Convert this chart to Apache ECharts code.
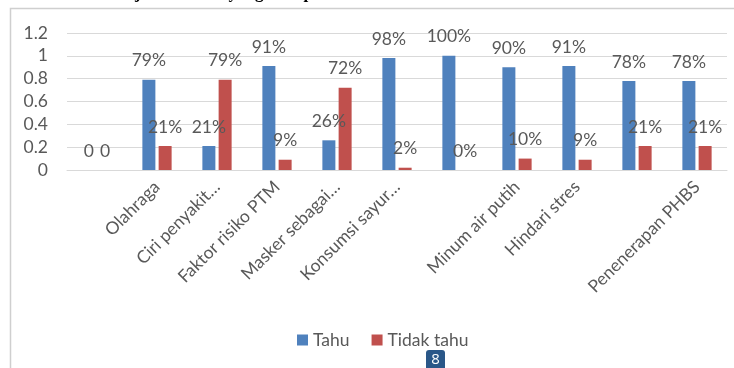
<!DOCTYPE html>
<html>
<head>
<meta charset="utf-8">
<script src="https://cdn.jsdelivr.net/npm/echarts@6/dist/echarts.min.js"></script>
<style>
html, body { margin: 0; padding: 0; background: #fff; }
#chart { width: 734px; height: 368px; }
</style>
</head>
<body>
<div id="chart"></div>
<script>
// data
const categories = ['', 'Olahraga', 'Ciri penyakit…', 'Faktor risiko PTM', 'Masker sebagai…',
    'Konsumsi sayur…', '', 'Minum air putih', 'Hindari stres', '', 'Penenerapan PHBS'];
const tahu = [0, 0.79, 0.21, 0.91, 0.26, 0.98, 1.00, 0.90, 0.91, 0.78, 0.78];
const tidakTahu = [0, 0.21, 0.79, 0.09, 0.72, 0.02, 0, 0.10, 0.09, 0.21, 0.21];
const yTicks = { min: 0, max: 1.2, interval: 0.2 };

const font = 'Lato, "Open Sans", sans-serif';
const grey = '#595959';

// first category shows plain 0, the rest show percent
const fmt = function (p) {
    if (p.dataIndex === 0) return '0';
    return Math.round(p.value * 100) + '%';
};

const labelStyle = {
    show: true,
    position: 'top',
    distance: 10,
    color: grey,
    fontFamily: font,
    fontSize: 17.5,
    formatter: fmt
};

const chart = echarts.init(document.getElementById('chart'));
chart.setOption({
    animation: false,
    backgroundColor: '#fff',
    grid: { left: 67, right: 7, top: 33, bottom: 198 },
    legend: {
        bottom: 14,
        left: 292,
        itemWidth: 11,
        itemHeight: 11,
        itemGap: 22,
        icon: 'rect',
        textStyle: { color: grey, fontFamily: font, fontSize: 17.5 },
        data: ['Tahu', 'Tidak tahu']
    },
    xAxis: {
        type: 'category',
        data: categories,
        axisTick: { show: false },
        axisLine: { lineStyle: { color: '#d9d9d9', width: 1 } },
        axisLabel: {
            interval: 0,
            rotate: 45,
            margin: 14,
            color: grey,
            fontFamily: font,
            fontSize: 17.5
        }
    },
    yAxis: {
        type: 'value',
        min: yTicks.min,
        max: yTicks.max,
        interval: yTicks.interval,
        axisLine: { show: false },
        axisTick: { show: false },
        splitLine: { lineStyle: { color: '#d9d9d9' } },
        axisLabel: {
            margin: 19,
            color: grey,
            fontFamily: font,
            fontSize: 17.5
        }
    },
    series: [
        {
            name: 'Tahu',
            type: 'bar',
            data: tahu,
            barWidth: 13,
            barGap: '25%',
            itemStyle: { color: '#4F81BD' },
            label: labelStyle
        },
        {
            name: 'Tidak tahu',
            type: 'bar',
            data: tidakTahu,
            barWidth: 13,
            itemStyle: { color: '#C0504D' },
            label: labelStyle
        }
    ],
    graphic: [
        {
            type: 'rect',
            shape: { x: 10.5, y: 8.5, width: 800, height: 400 },
            style: { fill: 'none', stroke: '#cfcfcf', lineWidth: 1.5 },
            silent: true
        },
        {
            type: 'text',
            left: -3,
            top: -15,
            style: {
                text: 'an menular menunjukkan level yang cukup baik.',
                font: 'bold 17px "Liberation Serif", serif',
                fill: '#000'
            },
            silent: true
        },
        {
            type: 'group',
            left: 426,
            top: 350,
            children: [
                {
                    type: 'rect',
                    shape: { x: 0, y: 0, width: 19, height: 24, r: 3 },
                    style: { fill: '#2a5788' }
                },
                {
                    type: 'text',
                    x: 9.5,
                    y: 2,
                    style: {
                        text: '8',
                        fill: '#fff',
                        font: '15px "Open Sans", sans-serif',
                        align: 'center'
                    }
                }
            ]
        }
    ]
});
</script>
</body>
</html>
